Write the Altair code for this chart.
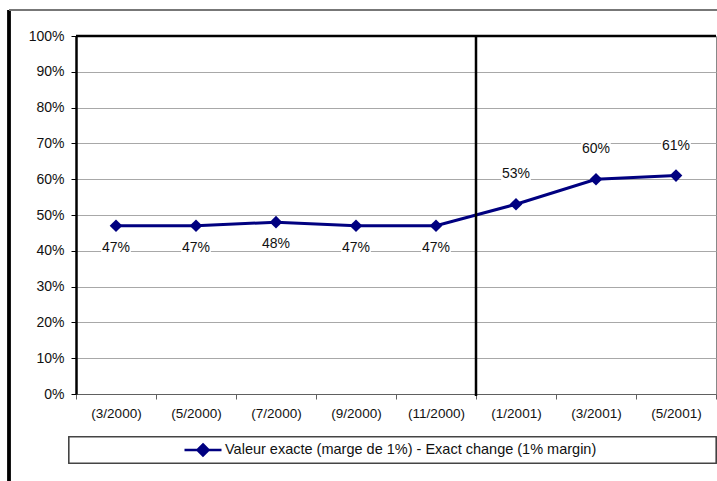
import altair as alt
import pandas as pd

# Survey periods and measured share (exact change, 1% margin)
periods = ["(3/2000)", "(5/2000)", "(7/2000)", "(9/2000)", "(11/2000)",
           "(1/2001)", "(3/2001)", "(5/2001)"]
values = [0.47, 0.47, 0.48, 0.47, 0.47, 0.53, 0.60, 0.61]
series_name = "Valeur exacte (marge de 1%) - Exact change (1% margin)"
y_ticks = [0, 0.1, 0.2, 0.3, 0.4, 0.5, 0.6, 0.7, 0.8, 0.9, 1.0]
divider_period = "(1/2001)"

NAVY = "#000080"
FONT = "Liberation Sans"
TEXT = "#111111"
W, H = 640, 358

df = pd.DataFrame({"period": periods, "value": values, "series": series_name})

band_scale = alt.Scale(type="band", domain=periods, paddingInner=0, paddingOuter=0)

# one shared definition of each axis, used by every layer on the shared scales
x_enc = alt.X(
    "period:N", sort=periods, title=None, scale=band_scale,
    axis=alt.Axis(labelAngle=0, grid=False, tickBand="extent",
                  domainColor="#606060", tickColor="#606060", tickSize=5,
                  labelPadding=7, labelFont=FONT, labelFontSize=13.5,
                  labelColor=TEXT, labelOverlap=False),
)
y_enc = alt.Y(
    "value:Q", title=None,
    scale=alt.Scale(domain=[0, 1], nice=False, zero=True),
    axis=alt.Axis(values=y_ticks, format=".0%", grid=True, gridColor="#a8a8a8",
                  gridWidth=1, domainColor="black", domainWidth=2.5,
                  tickColor="black", tickSize=5, labelPadding=7,
                  labelOverlap=False, labelFlush=False,
                  labelFont=FONT, labelFontSize=14, labelColor=TEXT),
)

base = alt.Chart(df)

line = base.mark_line(color=NAVY, strokeWidth=3).encode(x=x_enc, y=y_enc)

# diamond markers carry the legend entry (line with diamond)
points = base.mark_point(shape="diamond", filled=True, size=160, opacity=1).encode(
    x=x_enc,
    y=y_enc,
    color=alt.Color(
        "series:N", scale=alt.Scale(range=[NAVY]), title=None,
        legend=alt.Legend(
            orient="none", legendX=107, legendY=394, direction="horizontal",
            symbolType="M-1,0H1M0,-0.3L0.3,0L0,0.3L-0.3,0Z",
            symbolSize=1369, symbolStrokeWidth=2.5,
            symbolStrokeColor=NAVY, symbolFillColor=NAVY,
            labelFont=FONT, labelFontSize=14.5, labelColor=TEXT,
            labelLimit=600, symbolOffset=0, labelOffset=2,
        ),
    ),
)

below = alt.datum.value < 0.5
label_bg_shape = "M-1.35,-0.55H1.35V0.55H-1.35Z"

bg_low = base.transform_filter(below).mark_point(
    shape=label_bg_shape, filled=True, color="white", size=484, opacity=1, yOffset=22
).encode(x=x_enc, y=y_enc)
bg_high = base.transform_filter(~below).mark_point(
    shape=label_bg_shape, filled=True, color="white", size=484, opacity=1, yOffset=-30
).encode(x=x_enc, y=y_enc)

txt_low = base.transform_filter(below).mark_text(
    dy=22, font=FONT, fontSize=14, color=TEXT
).encode(x=x_enc, y=y_enc, text=alt.Text("value:Q", format=".0%"))
txt_high = base.transform_filter(~below).mark_text(
    dy=-30, font=FONT, fontSize=14, color=TEXT
).encode(x=x_enc, y=y_enc, text=alt.Text("value:Q", format=".0%"))

# heavy top border of the plot area
top_border = alt.Chart(pd.DataFrame({"value": [1.0]})).mark_rule(
    color="black", strokeWidth=2.5
).encode(y=y_enc)

# outer chart frame and legend box
frame_left = alt.Chart(df).mark_rule(color="black", strokeWidth=2.5).encode(
    x=alt.value(-67), y=alt.value(-26), y2=alt.value(H + 100))
frame_top = alt.Chart(df).mark_rule(color="#777777", strokeWidth=1.5).encode(
    x=alt.value(-67), x2=alt.value(W + 10), y=alt.value(-26))
legend_box = alt.Chart(df).mark_rect(
    fill="white", stroke="#444444", strokeWidth=1.2
).encode(x=alt.value(-7), x2=alt.value(W), y=alt.value(401), y2=alt.value(427))

main = alt.layer(
    line, legend_box, frame_left, frame_top, top_border,
    bg_low, bg_high, txt_low, txt_high, points,
)

# divider between the two years, on its own copy of the band scale
divider = alt.Chart(pd.DataFrame({"period": [divider_period]})).mark_rule(
    color="black", strokeWidth=2.5
).encode(x=alt.X("period:N", scale=band_scale, bandPosition=0, axis=None),
         y=alt.value(0), y2=alt.value(H + 2))

chart = alt.layer(main, divider).resolve_scale(x="independent").properties(
    width=W, height=H,
    autosize=alt.AutoSizeParams(type="none"),
    padding={"left": 76, "top": 36, "right": 1, "bottom": 87},
    background="white",
).configure_view(
    stroke="#888888", strokeWidth=1
)

chart.save("out.html", embed_options={"renderer": "svg", "actions": False})
